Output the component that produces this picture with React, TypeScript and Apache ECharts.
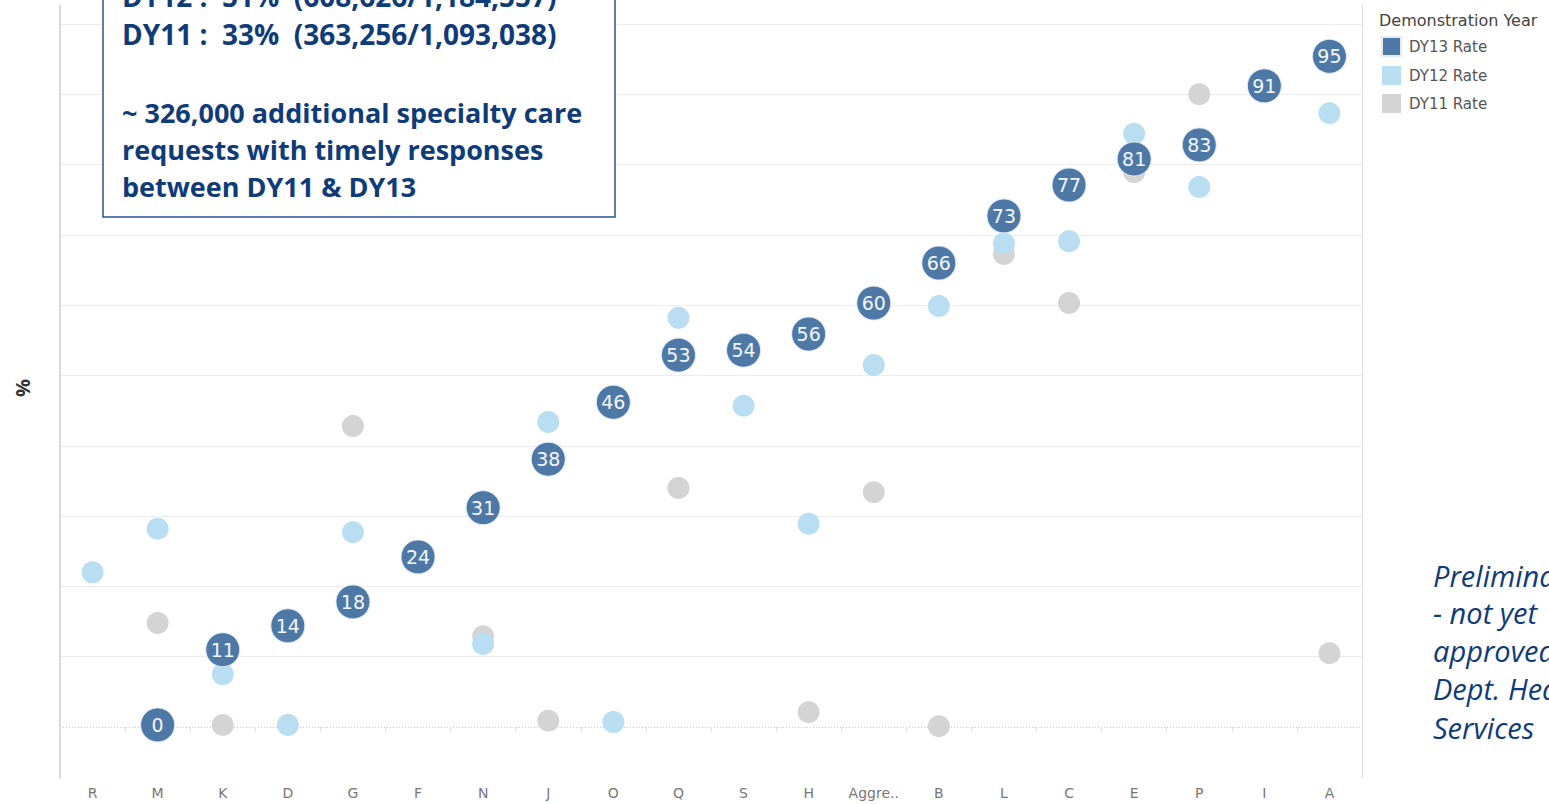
import React, { useEffect, useRef } from "react";
import * as echarts from "echarts";

const categories = ["R", "M", "K", "D", "G", "F", "N", "J", "O", "Q", "S", "H", "Aggre..", "B", "L", "C", "E", "P", "I", "A"];
const dy13Rate = [null, 0.3, 11.0, 14.4, 17.8, 24.2, 31.2, 38.1, 46.2, 52.9, 53.6, 55.9, 60.3, 66.0, 72.7, 77.1, 80.8, 82.8, 91.2, 95.4];
const dy12Rate = [22, 28.2, 7.5, 0.3, 27.7, null, 11.8, 43.4, 0.7, 58.2, 45.7, 28.9, 51.5, 59.9, 68.8, 69.1, 84.4, 76.8, null, 87.3];
const dy11Rate = [null, 14.8, 0.3, null, 42.8, null, 12.9, 0.9, null, 34.0, null, 2.1, 33.4, 0.1, 67.3, 60.3, 78.9, 90.0, null, 10.5];
const gridValues = [10, 20, 30, 40, 50, 60, 70, 80, 90, 100];
const boxLines = [
  "DY12 :  51%  (608,626/1,184,557)",
  "DY11 :  33%  (363,256/1,093,038)",
  "~ 326,000 additional specialty care",
  "requests with timely responses",
  "between DY11 & DY13",
];
const noteLines = ["Preliminary", "- not yet", "approved by", "Dept. Health", "Services"];

export default function App() {
  const ref = useRef<HTMLDivElement>(null);
  useEffect(() => {
    if (!ref.current) return;
    const chart = echarts.init(ref.current, null, { renderer: "svg" });
    const navy = "#0f3c78";
    const boxY = [-4, 34, 112, 149, 186];
    const boxSize = [28, 28, 27, 27, 27];
    const noteY = [575, 612, 650, 688, 727];
    chart.setOption({
      animation: false,
      backgroundColor: "#ffffff",
      grid: { left: 60, right: 187, top: 5, bottom: 26 },
      legend: {
        orient: "vertical",
        left: 1381,
        top: 36,
        padding: 0,
        icon: "rect",
        itemWidth: 19,
        itemHeight: 19,
        itemGap: 9,
        data: ["DY13 Rate", "DY12 Rate", "DY11 Rate"],
        textStyle: { fontFamily: "DejaVu Sans", fontSize: 15, color: "#555", padding: [0, 0, 0, 3] },
      },
      xAxis: {
        type: "category",
        data: categories,
        axisLine: { show: false },
        axisTick: { show: true, length: 5, lineStyle: { color: "#e2e2e2" } },
        axisLabel: { fontFamily: "DejaVu Sans", fontSize: 14, color: "#777", margin: 8, interval: 0 },
        splitLine: { show: false },
      },
      yAxis: [
        {
          type: "value",
          min: -7.25,
          max: 102.7,
          axisLabel: { show: false },
          axisTick: { show: false },
          splitLine: { show: false },
          axisLine: { show: true, lineStyle: { color: "#cfcfcf", width: 1.5 } },
        },
        {
          type: "value",
          position: "right",
          min: -7.25,
          max: 102.7,
          axisLabel: { show: false },
          axisTick: { show: false },
          splitLine: { show: false },
          axisLine: { show: true, lineStyle: { color: "#e0e0e0", width: 1 } },
        },
      ],
      series: [
        {
          name: "DY11 Rate",
          type: "scatter",
          data: dy11Rate,
          symbolSize: 22,
          itemStyle: { color: "#d4d4d4", opacity: 1 },
          markLine: {
            silent: true,
            symbol: "none",
            label: { show: false },
            z: 0,
            data: [
              { yAxis: 0, lineStyle: { color: "#c4c4c4", type: [1, 2], width: 1 } },
              ...gridValues.map((v) => ({ yAxis: v, lineStyle: { color: "#ececec", type: "solid", width: 1 } })),
            ],
          },
        },
        {
          name: "DY12 Rate",
          type: "scatter",
          data: dy12Rate,
          symbolSize: 22,
          itemStyle: { color: "#b9ddf1", opacity: 1 },
        },
        {
          name: "DY13 Rate",
          type: "scatter",
          data: dy13Rate,
          symbolSize: 34,
          itemStyle: { color: "#4e79a7", opacity: 1, borderColor: "#e3ebf3", borderWidth: 1 },
          label: {
            show: true,
            position: "inside",
            formatter: (p: any) => String(Math.round(p.value)),
            color: "#f4f7fb",
            fontFamily: "DejaVu Sans",
            fontSize: 19,
          },
        },
      ],
      graphic: [
        {
          type: "rect",
          shape: { x: 103, y: -60, width: 512, height: 277 },
          style: { fill: "#ffffff", stroke: "#2a5590", lineWidth: 1.5 },
          z: 100,
        },
        ...boxLines.map((t, i) => ({
          type: "text",
          x: 122,
          y: boxY[i],
          z: 101,
          style: {
            text: t,
            fontFamily: "Open Sans",
            fontWeight: "bold",
            fontSize: boxSize[i],
            fill: navy,
            textVerticalAlign: "middle",
          },
        })),
        ...noteLines.map((t, i) => ({
          type: "text",
          x: 1433,
          y: noteY[i],
          z: 101,
          style: {
            text: t,
            fontFamily: "Open Sans",
            fontStyle: "italic",
            fontSize: 29,
            fill: navy,
            textVerticalAlign: "middle",
          },
        })),
        {
          type: "text",
          x: 1379,
          y: 20,
          style: {
            text: "Demonstration Year",
            fontFamily: "DejaVu Sans",
            fontSize: 16,
            fill: "#444",
            textVerticalAlign: "middle",
          },
        },
        {
          type: "text",
          x: 22,
          y: 388,
          rotation: Math.PI / 2,
          style: {
            text: "%",
            fontFamily: "Open Sans",
            fontWeight: "bold",
            fontSize: 20,
            fill: "#333",
            textAlign: "center",
            textVerticalAlign: "middle",
          },
        },
      ],
    });
    return () => chart.dispose();
  }, []);
  return (
    <div
      ref={ref}
      style={{ position: "absolute", left: 0, top: 0, width: 1549, height: 804, overflow: "hidden" }}
    />
  );
}
